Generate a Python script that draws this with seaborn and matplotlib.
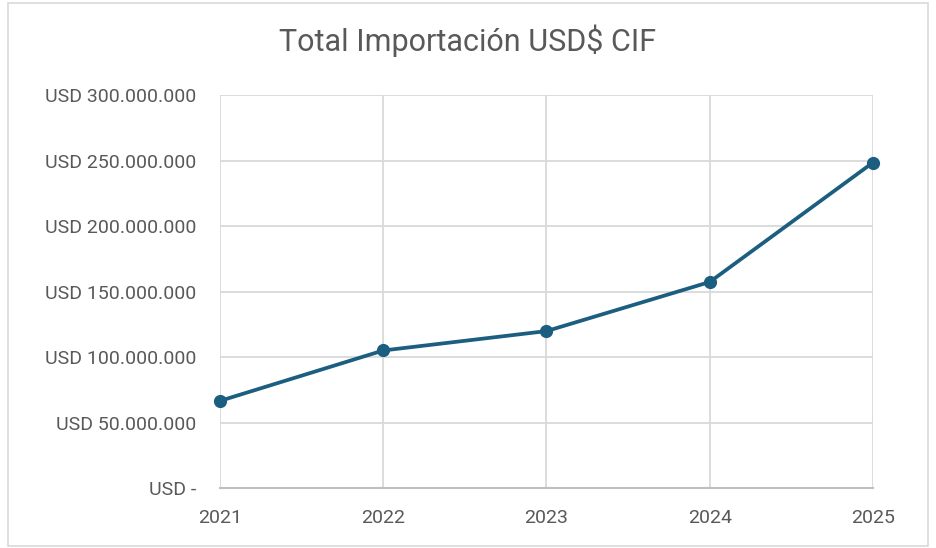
import matplotlib
matplotlib.use('Agg')
import matplotlib.pyplot as plt
import seaborn as sns
import pandas as pd
from matplotlib.ticker import FuncFormatter
from matplotlib.patches import Rectangle

years = [2021, 2022, 2023, 2024, 2025]
import_usd = [66_500_000, 105_000_000, 119_800_000, 157_300_000, 248_500_000]
y_ticks = [0, 50_000_000, 100_000_000, 150_000_000, 200_000_000, 250_000_000, 300_000_000]

df = pd.DataFrame({"year": years, "usd": import_usd})

sns.set_theme(style="white")
plt.rcParams['font.family'] = ['Roboto', 'DejaVu Sans']

text_color = "#595959"
line_color = "#1b5e80"

fig = plt.figure(figsize=(9.36, 5.48), dpi=100)
ax = fig.add_axes([0.235, 0.1095, 0.6977, 0.717])

sns.lineplot(data=df, x="year", y="usd", ax=ax, color=line_color, linewidth=2.7,
             marker="o", markersize=9.5, markeredgewidth=0, clip_on=False, zorder=3)

def usd_fmt(v, pos):
    if v == 0:
        return "USD -"
    return "USD " + f"{int(v):,}".replace(",", ".")

ax.set_xlim(years[0], years[-1])
ax.set_ylim(0, 300_000_000)
ax.set_xticks(years)
ax.set_yticks(y_ticks)
ax.yaxis.set_major_formatter(FuncFormatter(usd_fmt))
ax.grid(True, color="#d9d9d9", linewidth=1.3)
for side in ["top", "right", "left"]:
    ax.spines[side].set_visible(False)
ax.spines["bottom"].set_color("#bfbfbf")
ax.spines["bottom"].set_linewidth(1.5)
ax.tick_params(axis="both", length=0, colors=text_color, labelsize=14)
ax.tick_params(axis="x", pad=15)
ax.tick_params(axis="y", pad=17)
ax.set_xlabel("")
ax.set_ylabel("")

fig.text(0.5, 0.925, "Total Importación USD$ CIF", ha="center", va="center",
         fontsize=22, color=text_color)

fig.add_artist(Rectangle((0.009, 0.004), 0.982, 0.99, transform=fig.transFigure,
                         fill=False, edgecolor="#d9d9d9", linewidth=1.2))

fig.savefig("out.png", dpi=100)
